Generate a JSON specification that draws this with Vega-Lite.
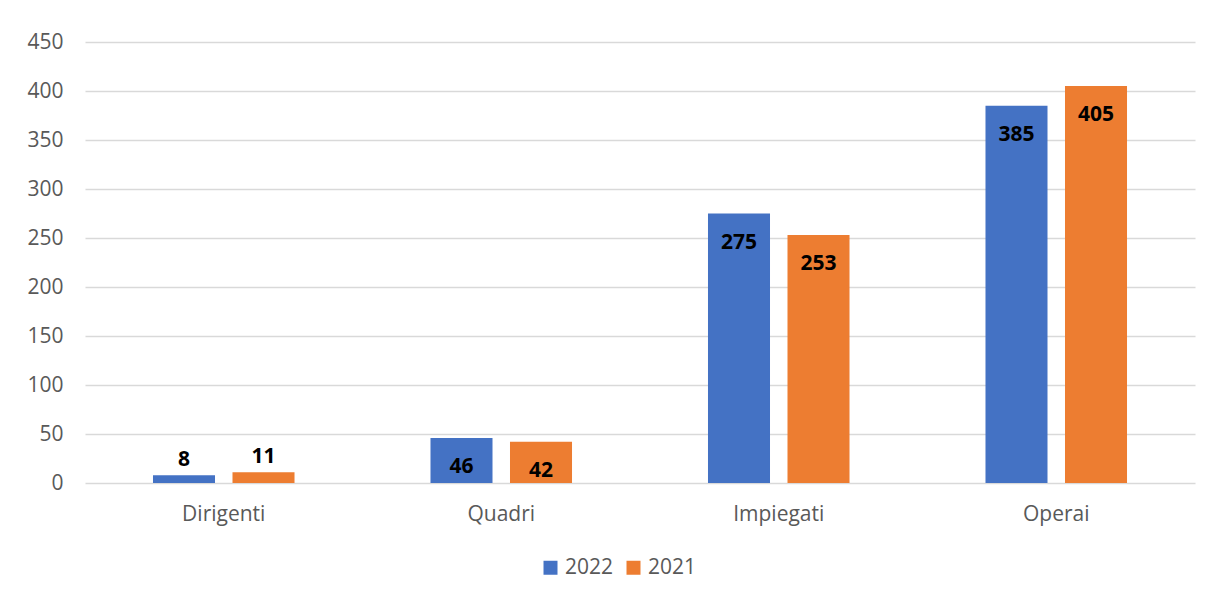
{
  "$schema": "https://vega.github.io/schema/vega-lite/v6.json",
  "width": 1110,
  "height": 441,
  "autosize": {"type": "none"},
  "padding": {"left": 85, "top": 42, "right": 16, "bottom": 114},
  "background": "white",
  "config": {
    "view": {"stroke": null},
    "font": "Open Sans"
  },
  "data": {
    "values": [
      {"categoria": "Dirigenti", "anno": "2022", "valore": 8},
      {"categoria": "Dirigenti", "anno": "2021", "valore": 11},
      {"categoria": "Quadri", "anno": "2022", "valore": 46},
      {"categoria": "Quadri", "anno": "2021", "valore": 42},
      {"categoria": "Impiegati", "anno": "2022", "valore": 275},
      {"categoria": "Impiegati", "anno": "2021", "valore": 253},
      {"categoria": "Operai", "anno": "2022", "valore": 385},
      {"categoria": "Operai", "anno": "2021", "valore": 405}
    ]
  },
  "encoding": {
    "x": {
      "field": "categoria", "type": "nominal",
      "sort": ["Dirigenti", "Quadri", "Impiegati", "Operai"],
      "scale": {"paddingInner": 0.49, "paddingOuter": 0.245},
      "axis": {"title": null, "labelAngle": 0, "domain": false, "ticks": false, "labelFontSize": 21, "labelColor": "#595959", "labelPadding": 20, "labelFont": "Open Sans"}
    },
    "xOffset": {
      "field": "anno", "type": "nominal",
      "sort": ["2022", "2021"],
      "scale": {"paddingInner": 0.22, "paddingOuter": 0}
    },
    "y": {
      "field": "valore", "type": "quantitative",
      "scale": {"domain": [0, 450]},
      "axis": {"title": null, "values": [0, 50, 100, 150, 200, 250, 300, 350, 400, 450], "domain": false, "ticks": false, "grid": true, "gridColor": "#D9D9D9", "gridWidth": 1.3, "labelFontSize": 21, "labelColor": "#595959", "labelPadding": 22, "labelFont": "Open Sans"}
    }
  },
  "layer": [
    {
      "mark": {"type": "bar"},
      "encoding": {
        "color": {
          "field": "anno", "type": "nominal",
          "sort": ["2022", "2021"],
          "scale": {"domain": ["2022", "2021"], "range": ["#4472C4", "#ED7D31"]},
          "legend": {"title": null, "orient": "none", "direction": "horizontal", "legendX": 455, "legendY": 515, "symbolType": "square", "symbolSize": 196, "symbolStrokeWidth": 0, "labelFontSize": 21, "labelColor": "#595959", "columnPadding": 9, "labelOffset": 4, "labelFont": "Open Sans"}
        }
      }
    },
    {
      "transform": [{"filter": "datum.valore >= 40"}],
      "mark": {"type": "text", "baseline": "middle", "dy": 29, "fontWeight": "bold", "fontSize": 21, "color": "black", "font": "Open Sans"},
      "encoding": {"text": {"field": "valore", "type": "quantitative"}}
    },
    {
      "transform": [{"filter": "datum.valore < 40"}],
      "mark": {"type": "text", "baseline": "middle", "dy": -15, "fontWeight": "bold", "fontSize": 21, "color": "black", "font": "Open Sans"},
      "encoding": {"text": {"field": "valore", "type": "quantitative"}}
    }
  ]
}
